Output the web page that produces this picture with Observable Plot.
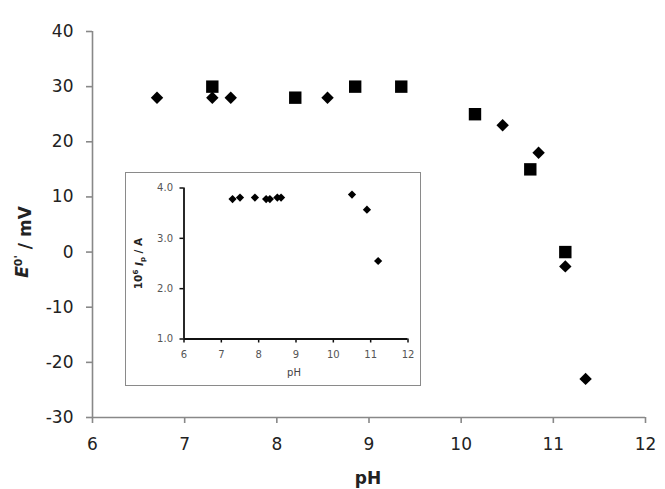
<!DOCTYPE html>
<html><head><meta charset="utf-8">
<script src="https://cdn.jsdelivr.net/npm/d3@7"></script>
<script src="https://cdn.jsdelivr.net/npm/@observablehq/plot@0.6"></script>
<style>
body{margin:0;background:#fff;}
#chart{position:relative;width:665px;height:489px;font-family:"DejaVu Sans",sans-serif;}
#inset{position:absolute;left:125px;top:172px;width:296px;height:214px;box-sizing:border-box;border:1.5px solid #8a8a8a;background:#fff;}
#inset svg, #main svg{display:block;}
</style></head><body>
<div id="chart"><div id="main"></div><div id="inset"></div></div>
<script>
// Main chart data
const xTicks = [6, 7, 8, 9, 10, 11, 12];
const yTicks = [-30, -20, -10, 0, 10, 20, 30, 40];
const diamondPH = [6.7, 7.3, 7.5, 8.55, 10.45, 10.84, 11.13, 11.35];
const diamondE  = [28, 28, 28, 28, 23, 18, -2.6, -23];
const squarePH  = [7.3, 8.2, 8.85, 9.35, 10.15, 10.75, 11.13];
const squareE   = [30, 28, 30, 30, 25, 15, 0];

// Inset data
const insetXTicks = [6, 7, 8, 9, 10, 11, 12];
const insetYTicks = [1, 2, 3, 4];
const insetPH = [7.3, 7.5, 7.9, 8.2, 8.3, 8.5, 8.6, 10.5, 10.9, 11.2];
const insetIp = [3.78, 3.81, 3.81, 3.78, 3.78, 3.81, 3.81, 3.87, 3.57, 2.55];

const diamonds = diamondPH.map((x, i) => ({pH: x, E: diamondE[i]}));
const squares = squarePH.map((x, i) => ({pH: x, E: squareE[i]}));
const insetData = insetPH.map((x, i) => ({pH: x, Ip: insetIp[i]}));
const plain = d => String(d);

const main = Plot.plot({
  width: 665, height: 489,
  marginLeft: 92, marginRight: 20, marginTop: 31, marginBottom: 72,
  style: {fontFamily: "DejaVu Sans", fontSize: "17px", color: "#222", background: "transparent"},
  x: {domain: [xTicks[0], xTicks[xTicks.length - 1]]},
  y: {domain: [yTicks[0], yTicks[yTicks.length - 1]]},
  marks: [
    Plot.axisX({ticks: xTicks, tickSize: 6, tickPadding: 14, tickFormat: plain, label: null}),
    Plot.axisY({ticks: yTicks, tickSize: 6, tickPadding: 13, tickFormat: plain, label: null}),
    Plot.ruleY([yTicks[0]], {stroke: "#888", strokeWidth: 1.6}),
    Plot.ruleX([xTicks[0]], {stroke: "#888", strokeWidth: 1.6}),
    Plot.dot(diamonds, {x: "pH", y: "E", symbol: "diamond2", r: 5.6, fill: "#000", stroke: "none"}),
    Plot.dot(squares, {x: "pH", y: "E", symbol: "square", r: 7, fill: "#000", stroke: "none"})
  ]
});
const ms = d3.select(main);
ms.selectAll('[aria-label="x-axis tick"], [aria-label="y-axis tick"]').attr("stroke", "#888").attr("stroke-width", 1.6);
ms.append("text").attr("x", 368).attr("y", 484).attr("text-anchor", "middle")
  .attr("font-weight", "bold").attr("font-size", 17).attr("fill", "#222").text("pH");
const yl = ms.append("text").attr("transform", "translate(28,242) rotate(-90)")
  .attr("text-anchor", "middle").attr("font-weight", "bold").attr("font-size", 17).attr("fill", "#222");
yl.append("tspan").attr("font-style", "italic").text("E");
yl.append("tspan").attr("dy", "-0.55em").attr("font-size", 11).text("0'");
yl.append("tspan").attr("dy", "0.55em").text(" / mV");
document.getElementById("main").appendChild(main);

const inset = Plot.plot({
  width: 293, height: 211,
  marginLeft: 57.5, marginRight: 11.5, marginTop: 14.5, marginBottom: 45.5,
  style: {fontFamily: "DejaVu Sans", fontSize: "10px", color: "#555", background: "#fff"},
  x: {domain: [insetXTicks[0], insetXTicks[insetXTicks.length - 1]]},
  y: {domain: [insetYTicks[0], insetYTicks[insetYTicks.length - 1]]},
  marks: [
    Plot.axisX({ticks: insetXTicks, tickSize: 4, tickPadding: 8, tickFormat: plain, label: null}),
    Plot.axisY({ticks: insetYTicks, tickSize: 4, tickPadding: 7, tickFormat: d3.format(".1f"), label: null}),
    Plot.ruleY([insetYTicks[0]], {stroke: "#111", strokeWidth: 1.8}),
    Plot.ruleX([insetXTicks[0]], {stroke: "#111", strokeWidth: 1.8}),
    Plot.dot(insetData, {x: "pH", y: "Ip", symbol: "diamond2", r: 3.7, fill: "#000", stroke: "none"})
  ]
});
const is = d3.select(inset);
is.selectAll('[aria-label="x-axis tick"], [aria-label="y-axis tick"]').attr("stroke", "#111").attr("stroke-width", 1.5);
is.append("text").attr("x", 168).attr("y", 202.5).attr("text-anchor", "middle")
  .attr("font-size", 10).attr("fill", "#444").text("pH");
const il = is.append("text").attr("transform", "translate(15.5,90.5) rotate(-90)")
  .attr("text-anchor", "middle").attr("font-weight", "bold").attr("font-size", 10.5).attr("fill", "#222");
il.append("tspan").text("10");
il.append("tspan").attr("dy", "-0.5em").attr("font-size", 7).text("6");
il.append("tspan").attr("dy", "0.5em").text(" ");
il.append("tspan").attr("font-style", "italic").text("I");
il.append("tspan").attr("dy", "0.3em").attr("font-size", 7).text("p");
il.append("tspan").attr("dy", "-0.3em").text(" / A");
document.getElementById("inset").appendChild(inset);
</script>
</body></html>
